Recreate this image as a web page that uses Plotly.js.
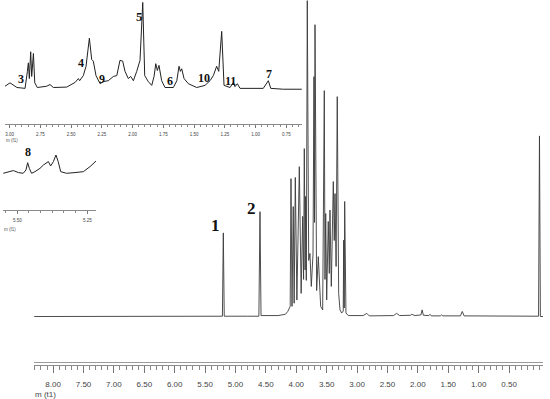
<!DOCTYPE html>
<html>
<head>
<meta charset="utf-8">
<script src="https://cdn.plot.ly/plotly-3.0.1.min.js"></script>
<style>
  html, body { margin: 0; padding: 0; background: #fff; }
  #nmr { width: 550px; height: 399px; }
</style>
</head>
<body>
<div id="nmr"></div>
<script>
// Full 1H spectrum (ppm, relative intensity)
const mainPpm = [8.31, 7.5, 6.5, 5.6, 5.215, 5.200, 5.185, 4.8, 4.615, 4.597, 4.58, 4.3, 4.18, 4.14, 4.10,
  4.087, 4.07, 4.05, 4.035, 4.016, 3.99, 3.95, 3.92, 3.895, 3.88, 3.868, 3.855, 3.846, 3.835, 3.819,
  3.796, 3.775, 3.753, 3.725, 3.709, 3.70, 3.692, 3.665, 3.638, 3.599, 3.566, 3.539, 3.528, 3.516,
  3.500, 3.474, 3.457, 3.446, 3.424, 3.391, 3.375, 3.363, 3.345, 3.326, 3.303, 3.281, 3.253, 3.228,
  3.22, 3.212, 3.204, 3.183, 3.145, 2.9, 2.84, 2.80, 2.4, 2.35, 2.30, 2.12, 2.10, 2.05, 1.95, 1.93,
  1.91, 1.82, 1.80, 1.78, 1.63, 1.61, 1.59, 1.30, 1.27, 1.24, 0.9, 0.3, 0.015, 0.0, -0.015, -0.058];
const mainInt = [0.3, 0.3, 0.4, 0.4, 0.4, 26.7, 0.4, 0.4, 0.4, 33.4, 0.6, 0.6, 1.0, 1.9, 3.5,
  43.8, 3.5, 35.0, 4.5, 44.2, 5.5, 47.6, 7.6, 31.9, 12, 53.3, 15, 38.2, 11.7, 100,
  18.0, 20.2, 9.8, 20, 76.0, 30, 92.4, 8.5, 19.2, 3.5, 2.4, 71.6, 12, 32.8,
  5.5, 30.3, 13.9, 33.9, 9.8, 42.9, 24.3, 39.1, 16.1, 69.7, 7.6, 2.4, 1.4, 2,
  24.4, 3, 36.6, 1.4, 0.6, 0.6, 1.3, 0.5, 0.6, 1.3, 0.6, 0.7, 1.0, 0.6, 0.8, 2.4,
  0.7, 0.6, 1.0, 0.5, 0.5, 0.8, 0.5, 0.5, 1.9, 0.5, 0.5, 0.4, 0.4, 57.3, 0.3, 0.3];

// Expansion 3.0 - 0.6 ppm
const zoomPpm = [3.037, 2.996, 2.94, 2.874, 2.855, 2.847, 2.839, 2.828, 2.82, 2.806, 2.795, 2.774, 2.698,
  2.671, 2.644, 2.535, 2.467, 2.44, 2.43, 2.4, 2.378, 2.351, 2.332, 2.319, 2.297, 2.264, 2.237, 2.197,
  2.156, 2.128, 2.102, 2.08, 2.061, 2.034, 2.015, 1.993, 1.966, 1.939, 1.917, 1.901, 1.872, 1.844,
  1.825, 1.811, 1.798, 1.785, 1.763, 1.736, 1.668, 1.64, 1.622, 1.611, 1.6, 1.581, 1.546, 1.478,
  1.411, 1.37, 1.343, 1.316, 1.299, 1.275, 1.256, 1.207, 1.18, 1.167, 1.148, 1.126, 0.937, 0.896,
  0.876, 0.774, 0.624];
const zoomInt = [1.5, 5.5, 0, -1, 19, 29, 10.5, 42, 13, 40, 5.5, 0, 1.5,
  3.5, 0, 0.5, 6, 10.5, 8, 14, 25, 58, 33, 31, 14, 4.5, 7, 8,
  13, 14, 32, 31, 19, 10.5, 13, 8, 19, 32, 100, 14, 7, 2.5,
  13, 28, 20, 26, 8, 0, 0, 8, 25, 19, 22, 10.5, 4.5, 0,
  2.5, 8, 14, 25, 19, 66, 2.5, 0, 6, 1, 4.5, -1, -1, 8,
  -1, -2, -2];

// Expansion 5.55 - 5.22 ppm
const anomPpm = [5.55, 5.532, 5.514, 5.496, 5.479, 5.469, 5.463, 5.457, 5.449, 5.437, 5.419, 5.407, 5.395,
  5.389, 5.381, 5.371, 5.362, 5.354, 5.345, 5.324, 5.294, 5.264, 5.24, 5.219];
const anomInt = [0, 9, 15, 4, 0, 18, 58, 27, 0, 9, 27, 45, 55,
  64, 40, 64, 100, 64, 9, 0, 4, 9, 37, 67];

// Peak numbering
const mainLabels = ['1', '2'];
const mainLabelPpm = [5.337, 4.729];
const mainLabelInt = [28.9, 34.5];
const zoomLabels = ['3', '4', '9', '5', '6', '10', '11', '7'];
const zoomLabelPpm = [2.909, 2.418, 2.246, 1.945, 1.695, 1.419, 1.207, 0.888];
const zoomLabelInt = [10, 28.5, 10, 83.3, 7.6, 10.8, 7.6, 15.9];
const anomLabels = ['8'];
const anomLabelPpm = [5.46];
const anomLabelInt = [116];

const mainTicks = [8, 7.5, 7, 6.5, 6, 5.5, 5, 4.5, 4, 3.5, 3, 2.5, 2, 1.5, 1, 0.5];
const zoomTicks = [3, 2.75, 2.5, 2.25, 2, 1.75, 1.5, 1.25, 1, 0.75];
const anomTicks = [5.5, 5.25];

const W = 550, H = 399;
const px = v => v / W;
const py = v => 1 - v / H;

const sans = 'Liberation Sans, Arial, sans-serif';
const serif = 'Liberation Serif, Times New Roman, serif';

const traces = [
  { x: mainPpm, y: mainInt, xaxis: 'x', yaxis: 'y', mode: 'lines',
    line: { color: '#3a3a3a', width: 0.9 }, hoverinfo: 'skip' },
  { x: zoomPpm, y: zoomInt, xaxis: 'x2', yaxis: 'y2', mode: 'lines',
    line: { color: '#222', width: 1 }, hoverinfo: 'skip' },
  { x: anomPpm, y: anomInt, xaxis: 'x3', yaxis: 'y3', mode: 'lines',
    line: { color: '#222', width: 1 }, hoverinfo: 'skip' }
];

function ppmAxis(domain, range, ticks, minor, anchor, font, len, standoff) {
  return {
    domain: domain, range: range, anchor: anchor,
    tickvals: ticks, ticktext: ticks.map(t => t.toFixed(2)),
    ticks: 'outside', ticklen: len, tickcolor: '#777', tickwidth: 1,
    ticklabelstandoff: standoff,
    minor: Object.assign({ ticks: 'outside', ticklen: len * 0.55, tickcolor: '#888', tickwidth: 1 }, minor),
    showline: true, linecolor: '#8a8a8a', linewidth: 1,
    showgrid: false, zeroline: false,
    tickfont: { family: sans, size: font, color: '#444' },
    fixedrange: true
  };
}

function intAxis(domain, range, anchor) {
  return { domain: domain, range: range, anchor: anchor, visible: false, fixedrange: true };
}

function peakNotes(labels, xs, ys, xref, yref, size) {
  return labels.map((t, i) => ({
    text: t, x: xs[i], y: ys[i], xref: xref, yref: yref, showarrow: false,
    font: { family: serif, size: (t === '5' ? size + 1 : size), color: '#111', weight: 'bold' }
  }));
}

const layout = {
  width: W, height: H,
  margin: { l: 0, r: 0, t: 0, b: 0 },
  paper_bgcolor: '#fff',
  plot_bgcolor: 'rgba(0,0,0,0)',
  showlegend: false,
  xaxis: ppmAxis([px(34), px(543)], [8.314, -0.058], mainTicks, { dtick: 0.1, tick0: 0 }, 'y', 8, 7, 4),
  yaxis: intAxis([py(365), 1], [-15, 100.2], 'x'),
  xaxis2: ppmAxis([px(5), px(302)], [3.037, 0.622], zoomTicks, { dtick: 0.05, tick0: 0 }, 'y2', 4.5, 3, 3),
  yaxis2: intAxis([py(124), 1], [-42.9, 102.9], 'x2'),
  xaxis3: ppmAxis([px(3), px(96)], [5.551, 5.219], anomTicks, { dtick: 0.25 / 6, tick0: 5.25 }, 'y3', 4.5, 3, 3),
  yaxis3: intAxis([py(210), py(140)], [-200.5, 182], 'x3'),
  shapes: [
    { type: 'line', xref: 'paper', yref: 'paper', x0: px(34), x1: px(543), y0: py(362.5), y1: py(362.5),
      line: { color: '#9a9a9a', width: 1 } }
  ],
  annotations: [].concat(
    peakNotes(mainLabels, mainLabelPpm, mainLabelInt, 'x', 'y', 17),
    peakNotes(zoomLabels, zoomLabelPpm, zoomLabelInt, 'x2', 'y2', 12),
    peakNotes(anomLabels, anomLabelPpm, anomLabelInt, 'x3', 'y3', 12),
    [
      { text: 'm (t1)', xref: 'paper', yref: 'paper', x: px(33), y: py(394), xanchor: 'left', yanchor: 'middle',
        showarrow: false, font: { family: sans, size: 8, color: '#444' } },
      { text: 'm (f1)', xref: 'paper', yref: 'paper', x: px(4), y: py(140), xanchor: 'left', yanchor: 'middle',
        showarrow: false, font: { family: sans, size: 4.5, color: '#555' } },
      { text: 'm (f1)', xref: 'paper', yref: 'paper', x: px(2), y: py(229), xanchor: 'left', yanchor: 'middle',
        showarrow: false, font: { family: sans, size: 4.5, color: '#555' } }
    ]
  )
};

Plotly.newPlot('nmr', traces, layout, { displayModeBar: false, staticPlot: true });
</script>
</body>
</html>
